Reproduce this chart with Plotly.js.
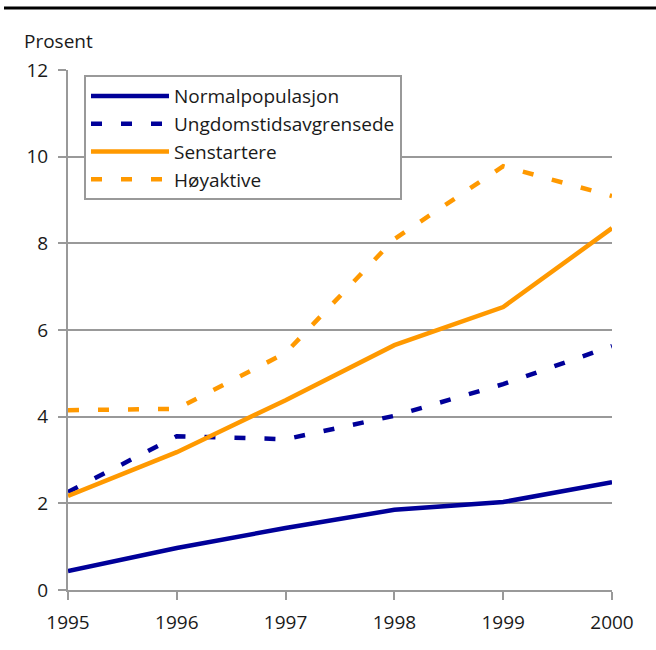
<!DOCTYPE html>
<html>
<head>
<meta charset="utf-8">
<script src="https://cdn.plot.ly/plotly-3.0.1.min.js"></script>
<style>html,body{margin:0;padding:0;background:#fff;}#chart{width:656px;height:650px;}</style>
</head>
<body>
<div id="chart"></div>
<script>
const years = [1995, 1996, 1997, 1998, 1999, 2000];
const normalpopulasjon = [0.44, 0.97, 1.43, 1.85, 2.03, 2.49];
const ungdomstidsavgrensede = [2.26, 3.55, 3.48, 4.02, 4.75, 5.63];
const senstartere = [2.17, 3.18, 4.38, 5.65, 6.53, 8.35];
const hoyaktive = [4.15, 4.18, 5.47, 8.10, 9.78, 9.09];
const seriesNames = ["Normalpopulasjon", "Ungdomstidsavgrensede", "Senstartere", "Høyaktive"];
const yTicks = [0, 2, 4, 6, 8, 10, 12];

const navy = "#000099";
const orange = "#FF9900";
const dashPat = "11px,19px";

const traces = [
  {x: years, y: normalpopulasjon, name: seriesNames[0], mode: "lines", line: {color: navy, width: 4.5}},
  {x: years, y: ungdomstidsavgrensede, name: seriesNames[1], mode: "lines", line: {color: navy, width: 4.5, dash: dashPat}},
  {x: years, y: senstartere, name: seriesNames[2], mode: "lines", line: {color: orange, width: 4.5}},
  {x: years, y: hoyaktive, name: seriesNames[3], mode: "lines", line: {color: orange, width: 4.5, dash: dashPat}}
];

const layout = {
  width: 656, height: 650,
  margin: {l: 68, r: 44, t: 70, b: 60},
  paper_bgcolor: "#fff", plot_bgcolor: "#fff",
  font: {family: "Open Sans, sans-serif", size: 19, color: "#1a1a1a"},
  showlegend: true,
  legend: {
    x: 0.0294, y: 0.99, xanchor: "left", yanchor: "top",
    bordercolor: "#999", borderwidth: 2, bgcolor: "#fff",
    font: {size: 19, color: "#1a1a1a"},
    itemwidth: 78, tracegroupgap: 0
  },
  xaxis: {
    range: [1995, 2000], tickvals: years, ticktext: years.map(String),
    showgrid: false, zeroline: false,
    showline: true, linecolor: "#999", linewidth: 2,
    ticks: "outside", ticklen: 8, tickcolor: "#999", tickwidth: 2,
    ticklabelstandoff: 6,
    tickfont: {size: 19, color: "#1a1a1a"}, fixedrange: true
  },
  yaxis: {
    range: [0, 12], tickvals: yTicks,
    showgrid: true, gridcolor: "#999", gridwidth: 2,
    zeroline: false, showline: true, linecolor: "#999", linewidth: 2,
    ticks: "outside", ticklen: 8, tickcolor: "#999", tickwidth: 2,
    ticklabelstandoff: 6,
    tickfont: {size: 19, color: "#1a1a1a"}, fixedrange: true
  },
  annotations: [
    {text: "Prosent", xref: "paper", yref: "paper", x: (22 - 68) / 544, y: (590 - 41) / 520,
     xanchor: "left", yanchor: "middle", showarrow: false, font: {size: 19, color: "#1a1a1a"}}
  ],
  shapes: [
    {type: "line", xref: "paper", yref: "paper", x0: (4 - 68) / 544, x1: (656 - 68) / 544,
     y0: (590 - 8) / 520, y1: (590 - 8) / 520, line: {color: "#000", width: 3}}
  ]
};

Plotly.newPlot("chart", traces, layout, {displayModeBar: false, staticPlot: true});
</script>
</body>
</html>
